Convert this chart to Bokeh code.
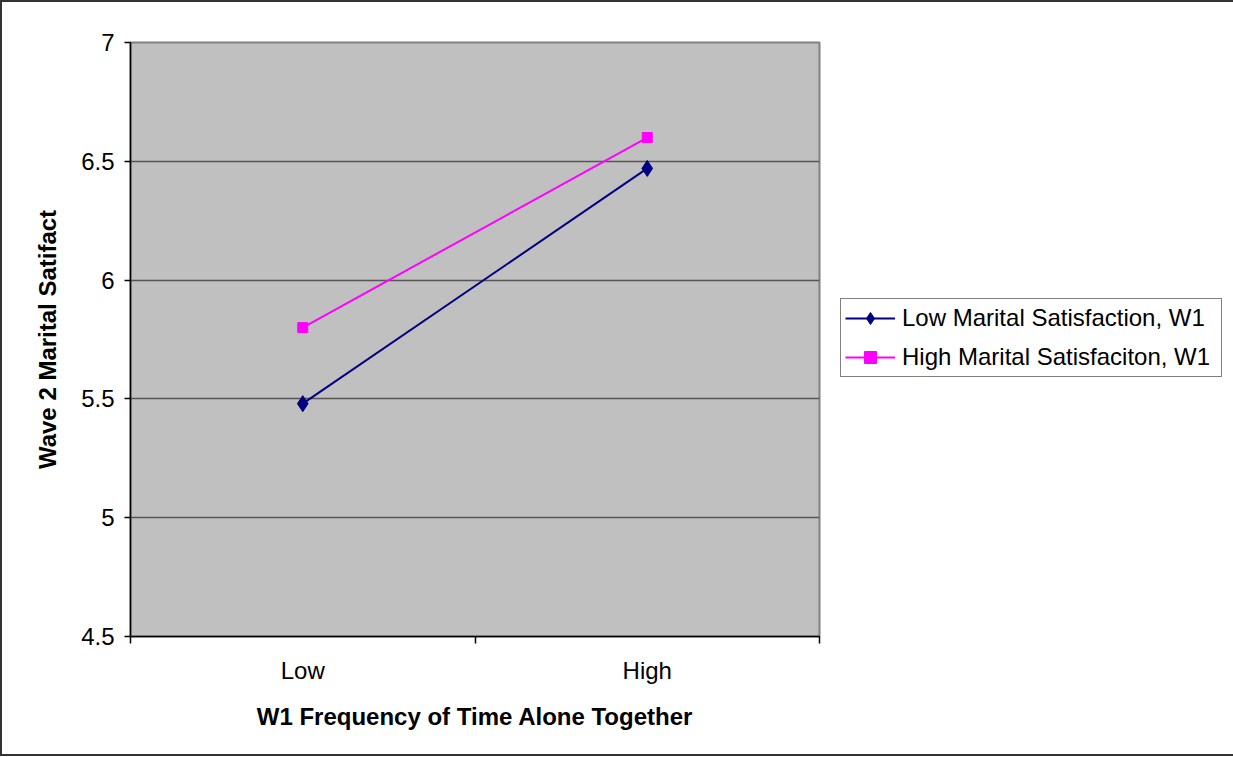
import math
from bokeh.plotting import figure
from bokeh.models import Range1d, FixedTicker, Legend, LegendItem
from bokeh.embed import file_html
from bokeh.resources import INLINE

# ---- data ----
categories = ["Low", "High"]
low_sat_w1 = [5.48, 6.47]
high_sat_w1 = [5.80, 6.60]
series_names = ["Low Marital Satisfaction, W1", "High Marital Satisfaciton, W1"]
y_ticks = [4.5, 5, 5.5, 6, 6.5, 7]
x_title = "W1 Frequency of Time Alone Together"
y_title = "Wave 2 Marital Satifact"

# category centres on a numeric scale (category i occupies [i, i+1])
xs = [i + 0.5 for i in range(len(categories))]
boundaries = list(range(len(categories) + 1))

FONT = "Liberation Sans"

p = figure(frame_width=689, frame_height=594, output_backend="svg", toolbar_location=None,
           x_range=Range1d(0, len(categories)), y_range=Range1d(4.5, 7),
           min_border_left=128, min_border_top=40, min_border_right=408,
           min_border_bottom=118)
p.styles = {"border": "2px solid #333333"}

p.background_fill_color = "#C0C0C0"
p.border_fill_color = "white"
p.outline_line_color = "#808080"
p.outline_line_width = 2

# grid
p.xgrid.visible = False
p.ygrid.grid_line_color = "#555555"
p.ygrid.grid_line_width = 1.5
p.ygrid.ticker = FixedTicker(ticks=y_ticks)

# x axis
xa = p.xaxis[0]
xa.ticker = FixedTicker(ticks=xs, minor_ticks=boundaries)
xa.major_label_overrides = {x: c for x, c in zip(xs, categories)}
xa.major_tick_out = 0
xa.major_tick_in = 0
xa.minor_tick_out = 7
xa.minor_tick_in = 0
xa.minor_tick_line_color = "black"
xa.minor_tick_line_width = 1.5
xa.axis_line_color = "black"
xa.axis_line_width = 1.5
xa.major_label_text_font = FONT
xa.major_label_text_font_size = "24px"
xa.major_label_text_color = "black"
xa.major_label_standoff = 13
xa.axis_label = x_title
xa.axis_label_text_font = FONT
xa.axis_label_text_font_style = "bold"
xa.axis_label_text_font_size = "24px"
xa.axis_label_text_color = "black"
xa.axis_label_standoff = 16

# y axis
ya = p.yaxis[0]
ya.ticker = FixedTicker(ticks=y_ticks, minor_ticks=[])
ya.major_tick_out = 6
ya.major_tick_in = 0
ya.major_tick_line_color = "black"
ya.major_tick_line_width = 1.5
ya.axis_line_color = "black"
ya.axis_line_width = 1.5
ya.major_label_text_font = FONT
ya.major_label_text_font_size = "24px"
ya.major_label_text_color = "black"
ya.major_label_standoff = 10
ya.axis_label = y_title
ya.axis_label_text_font = FONT
ya.axis_label_text_font_style = "bold"
ya.axis_label_text_font_size = "24px"
ya.axis_label_text_color = "black"
ya.axis_label_standoff = 17

# series
l1 = p.line(xs, low_sat_w1, line_color="#000080", line_width=2)
m1 = p.scatter(xs, low_sat_w1, marker="diamond", size=16,
               fill_color="#000080", line_color="#000080")
l2 = p.line(xs, high_sat_w1, line_color="#FF00FF", line_width=2)
m2 = p.scatter(xs, high_sat_w1, marker="square", size=10,
               fill_color="#FF00FF", line_color="#FF00FF")

legend = Legend(items=[LegendItem(label=series_names[0], renderers=[l1, m1]),
                       LegendItem(label=series_names[1], renderers=[l2, m2])],
                location=(21, 259))
legend.border_line_color = "black"
legend.border_line_width = 1
legend.background_fill_color = "white"
legend.background_fill_alpha = 1
legend.label_text_font = FONT
legend.label_text_font_size = "24px"
legend.label_text_color = "black"
legend.glyph_width = 50
legend.glyph_height = 30
legend.label_height = 30
legend.label_width = 315
legend.label_standoff = 7
legend.spacing = 9
legend.padding = 4
legend.margin = 0
p.add_layout(legend, "right")

open("out.html", "w").write(file_html(p, INLINE))
